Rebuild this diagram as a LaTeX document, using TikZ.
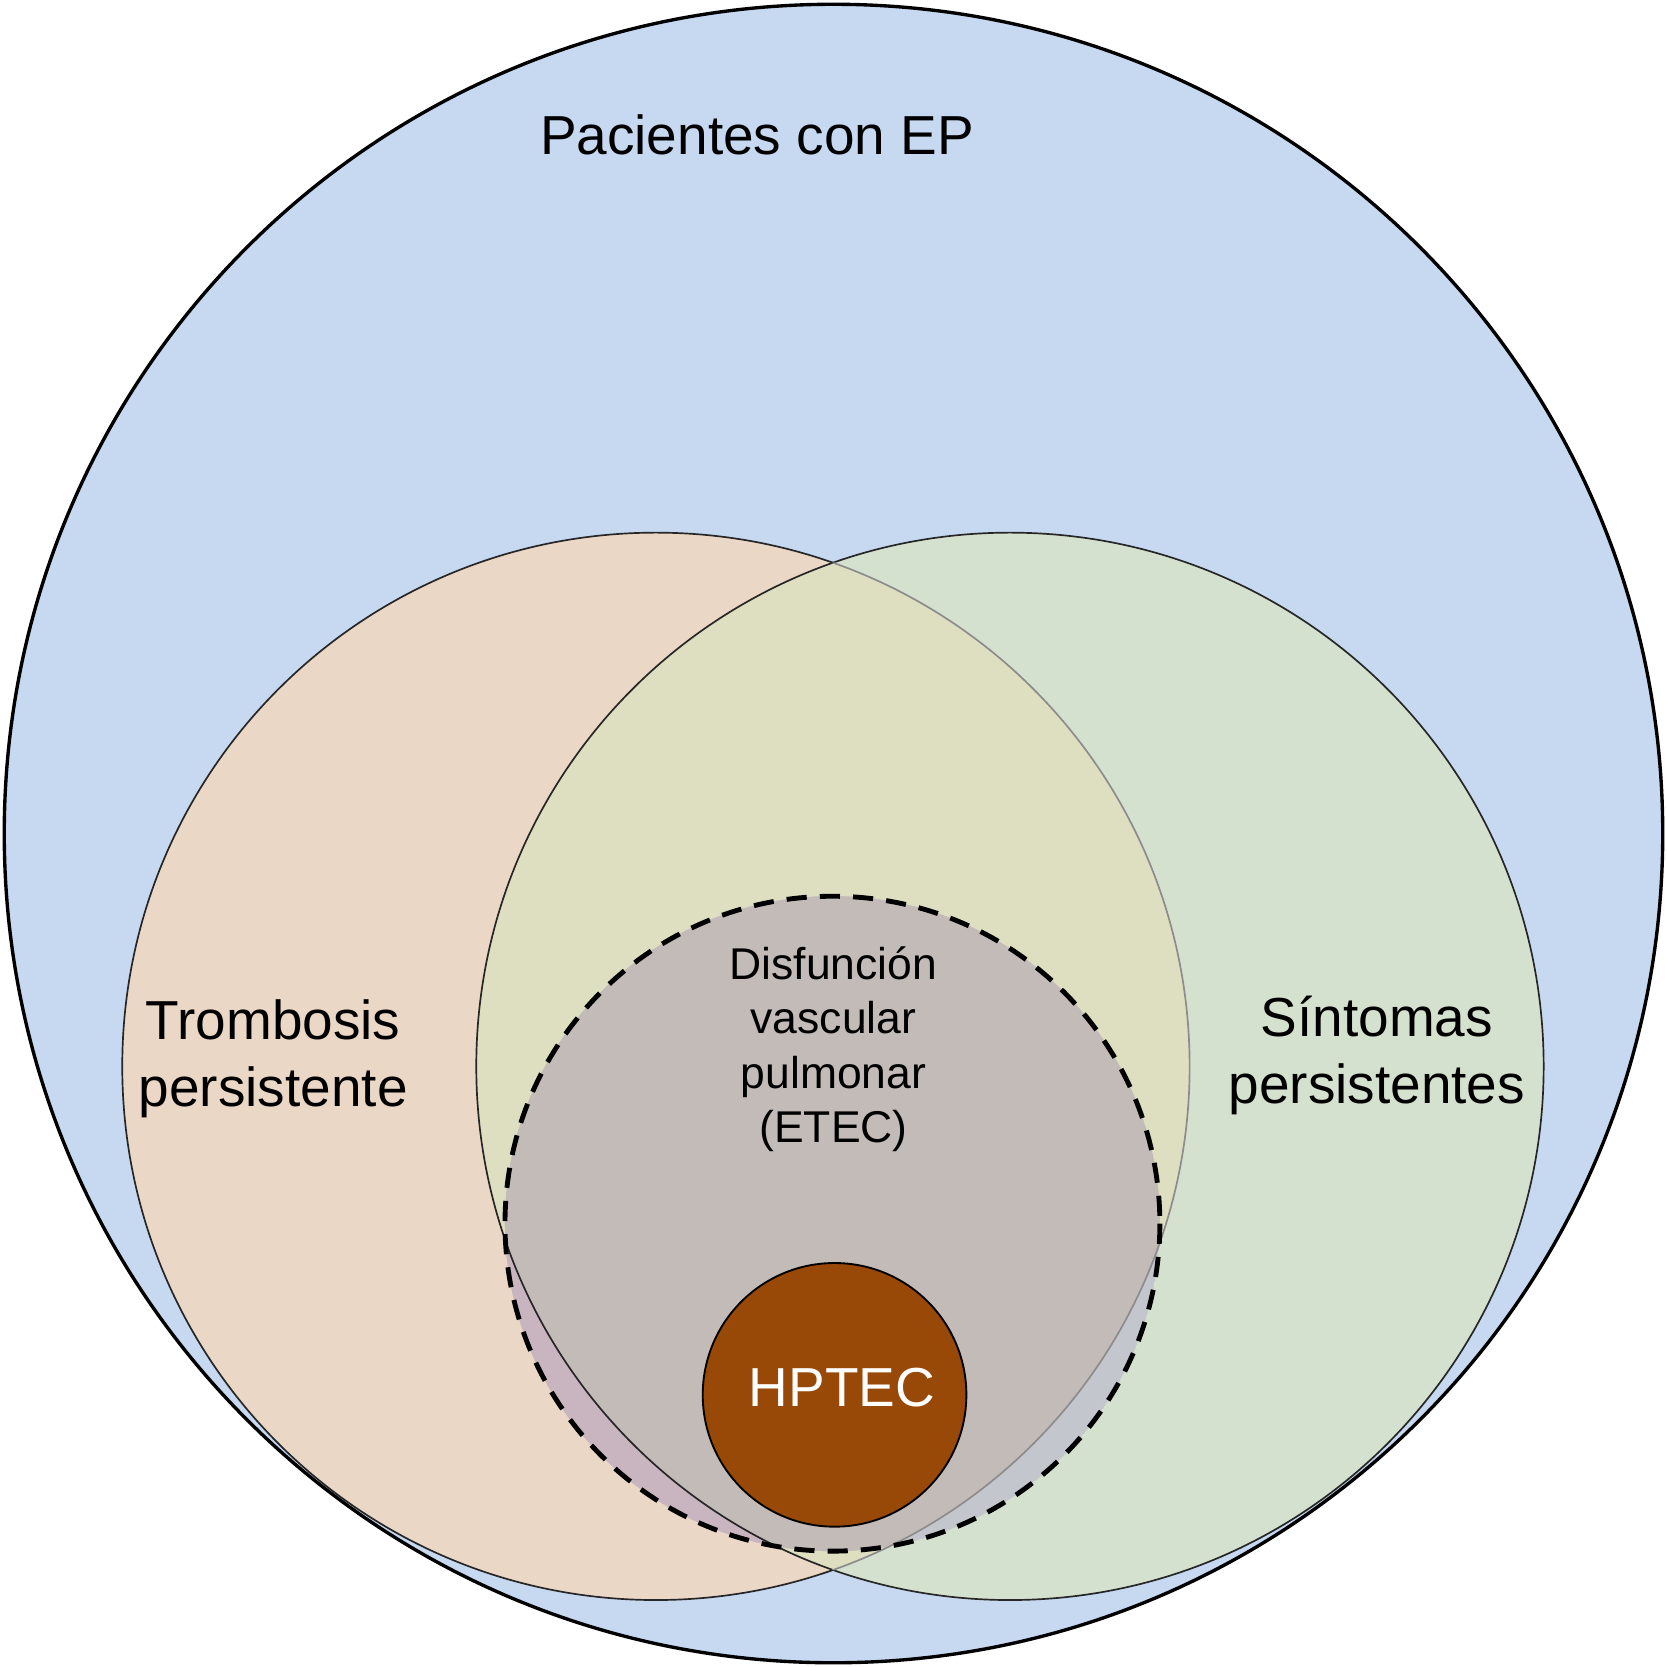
\documentclass[tikz,border=0pt]{standalone}
\usepackage{fontspec}
\setmainfont{Liberation Sans}
\begin{document}
\begin{tikzpicture}[x=0.01cm,y=-0.01cm,
  lbl/.style={font=\fontsize{14.7pt}{18pt}\selectfont, align=center, inner sep=0pt},
  small/.style={font=\fontsize{11.9pt}{14.6pt}\selectfont, align=center, inner sep=0pt},
  thin/.style={line width=0.45pt}]
\definecolor{cblue}{HTML}{C6D9F1}
\definecolor{corange}{HTML}{EBD7C6}
\definecolor{cgreen}{HTML}{D4E1CE}
\definecolor{cover}{HTML}{DEDEC1}
\definecolor{cgray}{HTML}{C3BBB8}
\definecolor{cpink}{HTML}{C9B5BF}
\definecolor{cbgray}{HTML}{C3C6CC}
\definecolor{chp}{HTML}{984807}
\useasboundingbox (0,0) rectangle (1568,1568);
\def\bigc{(784,784) circle[radius=780]}
\def\lc{(617,1003) circle[radius=502]}
\def\rc{(950,1003) circle[radius=502]}
\def\dc{(783,1151) circle[radius=308]}
% big circle
\fill[cblue] \bigc;
% left and right
\fill[corange] \lc;
\fill[cgreen] \rc;
\begin{scope}\clip \lc; \fill[cover] \rc; \end{scope}
% dashed circle interior
\begin{scope}\clip \dc;
  \fill[cbgray] \dc;
  \fill[cpink] \lc;
  \begin{scope}\clip \lc; \fill[cgray] \rc; \end{scope}
\end{scope}
% outlines
\draw[thin, black!85] \rc;
\begin{scope}[even odd rule]
  \clip (-10,-10) rectangle (1580,1580) (950,1003) circle[radius=502];
  \draw[thin, black!85] \lc;
\end{scope}
\begin{scope}
  \clip \rc;
  \draw[thin, black!45] \lc;
\end{scope}
\draw[line width=0.9pt] \bigc;
\draw[line width=1.3pt, dash pattern=on 5.4pt off 3.5pt] \dc;
% HPTEC
\node[circle, fill=chp, draw=black, line width=0.5pt, minimum size=248*0.01cm, inner sep=0pt] (hp) at (785,1312) {};
% texts
\node[lbl] (ep) at (712,127) {Pacientes con EP};
\node[lbl] (tp) at (257,996) {Trombosis\\persistente};
\node[lbl] (sp) at (1295,993) {Síntomas\\persistentes};
\node[small] (dv) at (784,987) {Disfunción\\vascular\\pulmonar\\(ETEC)};
\node[lbl, text=white] (hpt) at (792,1305) {HPTEC};
\end{tikzpicture}
\end{document}
